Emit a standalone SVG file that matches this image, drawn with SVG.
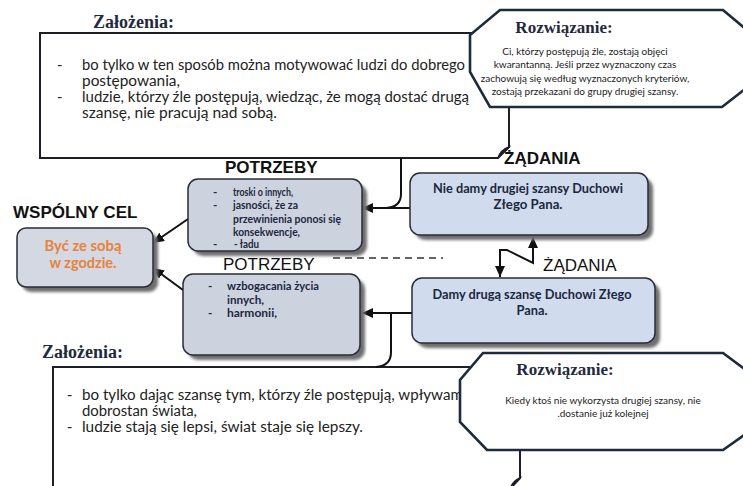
<svg xmlns="http://www.w3.org/2000/svg" width="743" height="486" viewBox="0 0 743 486">
  <style>
    .title { font-family: "Liberation Serif", "Times New Roman", serif; font-weight: bold; fill: #1f2b3c; }
    .head { font-family: "Liberation Sans", Arial, sans-serif; font-size: 17px; fill: #111; }
    .bold { font-weight: bold; }
    .note { font-family: Lato, "Liberation Sans", sans-serif; font-size: 14.5px; fill: #222; }
    .oct { font-family: Lato, "Liberation Sans", sans-serif; font-size: 10px; fill: #222; text-anchor: middle; }
    .btxt { font-family: Lato, "Liberation Sans", sans-serif; font-weight: bold; fill: #1c2740; }
    .notebox { fill: #fff; stroke: #1c1f2a; stroke-width: 2; }
    .octagon { fill: #fff; stroke: #1d2b3a; stroke-width: 2.6; stroke-linejoin: miter; }
    .box { stroke: #2a2d38; stroke-width: 1.5; }
    .shadow { fill: #6e6e6e; filter: url(#blur); }
    .wire { fill: none; stroke: #111; stroke-width: 2; }
  </style>
  <defs>
    <filter id="blur" x="-10%" y="-10%" width="130%" height="140%">
      <feGaussianBlur stdDeviation="1.4"/>
    </filter>
    <marker id="arrow" markerUnits="userSpaceOnUse" markerWidth="11" markerHeight="10" refX="11" refY="5" orient="auto-start-reverse">
      <path d="M0,0 L11,5 L0,10 Z" fill="#111"/>
    </marker>
  </defs>

  <rect width="743" height="486" fill="#fff"/>

  <!-- upper assumptions note -->
  <g id="zalozenia-1">
    <text class="title" x="93" y="28" font-size="18">Założenia:</text>
    <path class="notebox" d="M40,33 H509 V147 L498,158 H40 Z"/>
    <path d="M498,158 C500,152 503,149 509,147 C505,152 502,151 498,158 Z" fill="#fff" stroke="#1c1f2a" stroke-width="1.5"/>
    <text class="note" x="57" y="70">-</text>
    <text class="note" x="82" y="70" textLength="383" lengthAdjust="spacingAndGlyphs">bo tylko w ten sposób można motywować ludzi do dobrego</text>
    <text class="note" x="82" y="86" textLength="98" lengthAdjust="spacingAndGlyphs">postępowania,</text>
    <text class="note" x="57" y="102">-</text>
    <text class="note" x="82" y="102" textLength="387" lengthAdjust="spacingAndGlyphs">ludzie, którzy źle postępują, wiedząc, że mogą dostać drugą</text>
    <text class="note" x="82" y="118" textLength="195" lengthAdjust="spacingAndGlyphs">szansę, nie pracują nad sobą.</text>
  </g>

  <!-- upper solution -->
  <g id="rozwiazanie-1">
    <polygon class="octagon" points="500,10 723,10 754,36 754,82 722,107 490,107 470,72 470,35"/>
    <text class="title" x="564" y="33" font-size="17" text-anchor="middle">Rozwiązanie:</text>
    <text class="oct" x="585" y="55">Ci, którzy postępują źle, zostają objęci</text>
    <text class="oct" x="585" y="68">kwarantanną. Jeśli przez wyznaczony czas</text>
    <text class="oct" x="585" y="82">zachowują się według wyznaczonych kryteriów,</text>
    <text class="oct" x="585" y="95">zostają przekazani do grupy drugiej szansy.</text>
  </g>

  <!-- lower assumptions note -->
  <g id="zalozenia-2">
    <text class="title" x="42" y="358" font-size="18">Założenia:</text>
    <path class="notebox" d="M53,367 H520 V478 L510,489 H53 Z"/>
    <path d="M510,489 C512,483 515,480 520,478 C516,483 513,482 510,489 Z" fill="#fff" stroke="#1c1f2a" stroke-width="1.5"/>
    <text class="note" x="67" y="400">-</text>
    <text class="note" x="82" y="400" textLength="408" lengthAdjust="spacingAndGlyphs">bo tylko dając szansę tym, którzy źle postępują, wpływamy na</text>
    <text class="note" x="82" y="416" textLength="115" lengthAdjust="spacingAndGlyphs">dobrostan świata,</text>
    <text class="note" x="67" y="432">-</text>
    <text class="note" x="82" y="432" textLength="281" lengthAdjust="spacingAndGlyphs">ludzie stają się lepsi, świat staje się lepszy.</text>
  </g>

  <!-- lower solution -->
  <g id="rozwiazanie-2">
    <polygon class="octagon" points="483,353 723,353 754,376 754,428 723,450 487,450 460,422 460,380"/>
    <text class="title" x="565" y="375" font-size="17" text-anchor="middle">Rozwiązanie:</text>
    <text class="oct" x="603" y="404">Kiedy ktoś nie wykorzysta drugiej szansy, nie</text>
    <text class="oct" x="603" y="417">.dostanie już kolejnej</text>
  </g>

  <!-- connectors -->
  <g id="connectors">
    <path class="wire" d="M401,158 V194 Q401,207 386,208"/>
    <path class="wire" d="M391,313 V352 Q391,366 376,367"/>
    <path class="wire" d="M410,208 H362" marker-end="url(#arrow)"/>
    <path class="wire" d="M412,313 H362" marker-end="url(#arrow)"/>
    <path class="wire" d="M188,219 L153,243" marker-end="url(#arrow)"/>
    <path class="wire" d="M183,290 L153,268" marker-end="url(#arrow)"/>
    <path class="wire" d="M500,277 V250 H507 L533,263 V237" marker-start="url(#arrow)" marker-end="url(#arrow)"/>
    <path d="M333,258 H443" fill="none" stroke="#333" stroke-width="1.5" stroke-dasharray="7 5"/>
  </g>

  <!-- shared goal -->
  <g id="wspolny-cel">
    <text class="head bold" x="13" y="218">WSPÓLNY CEL</text>
    <rect class="shadow" x="22" y="233" width="136" height="59" rx="9"/>
    <rect class="box" x="17" y="228" width="136" height="59" rx="9" fill="#d3d8e2"/>
    <text class="btxt" x="83" y="251" font-size="15" text-anchor="middle" textLength="77" lengthAdjust="spacingAndGlyphs" style="fill:#e8823c">Być ze sobą</text>
    <text class="btxt" x="83" y="268" font-size="15" text-anchor="middle" textLength="67" lengthAdjust="spacingAndGlyphs" style="fill:#e8823c">w zgodzie.</text>
  </g>

  <!-- needs, upper -->
  <g id="potrzeby-1">
    <text class="head bold" x="225" y="173">POTRZEBY</text>
    <rect class="shadow" x="193" y="184" width="174" height="72" rx="10"/>
    <rect class="box" x="188" y="179" width="174" height="72" rx="10" fill="#ccd3df"/>
    <g class="btxt" font-size="11.5">
      <text x="213" y="196">-</text>
      <text x="233" y="196" textLength="60" lengthAdjust="spacingAndGlyphs">troski o innych,</text>
      <text x="213" y="209">-</text>
      <text x="233" y="209" textLength="65" lengthAdjust="spacingAndGlyphs">jasności, że za</text>
      <text x="233" y="223" textLength="108" lengthAdjust="spacingAndGlyphs">przewinienia ponosi się</text>
      <text x="233" y="236" textLength="67" lengthAdjust="spacingAndGlyphs">konsekwencje,</text>
      <text x="213" y="248">-</text>
      <text x="234" y="248" textLength="25" lengthAdjust="spacingAndGlyphs">- ładu</text>
    </g>
  </g>

  <!-- needs, lower -->
  <g id="potrzeby-2">
    <text class="head" x="223" y="270">POTRZEBY</text>
    <rect class="shadow" x="188" y="279" width="177" height="81" rx="10"/>
    <rect class="box" x="183" y="274" width="177" height="81" rx="10" fill="#ccd3df"/>
    <g class="btxt" font-size="11.5">
      <text x="208" y="290">-</text>
      <text x="227" y="290" textLength="92" lengthAdjust="spacingAndGlyphs">wzbogacania życia</text>
      <text x="227" y="304" textLength="37" lengthAdjust="spacingAndGlyphs">innych,</text>
      <text x="208" y="317">-</text>
      <text x="227" y="317" textLength="50" lengthAdjust="spacingAndGlyphs">harmonii,</text>
    </g>
  </g>

  <!-- demand: refuse a second chance -->
  <g id="zadanie-nie">
    <text class="head bold" x="504" y="164">ŻĄDANIA</text>
    <rect class="shadow" x="415" y="178" width="238" height="62" rx="10"/>
    <rect class="box" x="410" y="173" width="238" height="62" rx="10" fill="#d0dbee"/>
    <text class="btxt" x="528" y="193" font-size="12.5" text-anchor="middle" textLength="190" lengthAdjust="spacingAndGlyphs">Nie damy drugiej szansy Duchowi</text>
    <text class="btxt" x="528" y="209" font-size="12.5" text-anchor="middle" textLength="69" lengthAdjust="spacingAndGlyphs">Złego Pana.</text>
  </g>

  <!-- demand: grant a second chance -->
  <g id="zadanie-tak">
    <text class="head" x="543" y="271">ŻĄDANIA</text>
    <rect class="shadow" x="417" y="283" width="243" height="65" rx="10"/>
    <rect class="box" x="412" y="278" width="243" height="65" rx="10" fill="#d0dbee"/>
    <text class="btxt" x="532" y="299" font-size="12.5" text-anchor="middle" textLength="199" lengthAdjust="spacingAndGlyphs">Damy drugą szansę Duchowi Złego</text>
    <text class="btxt" x="532" y="315" font-size="12.5" text-anchor="middle" textLength="31" lengthAdjust="spacingAndGlyphs">Pana.</text>
  </g>
</svg>
